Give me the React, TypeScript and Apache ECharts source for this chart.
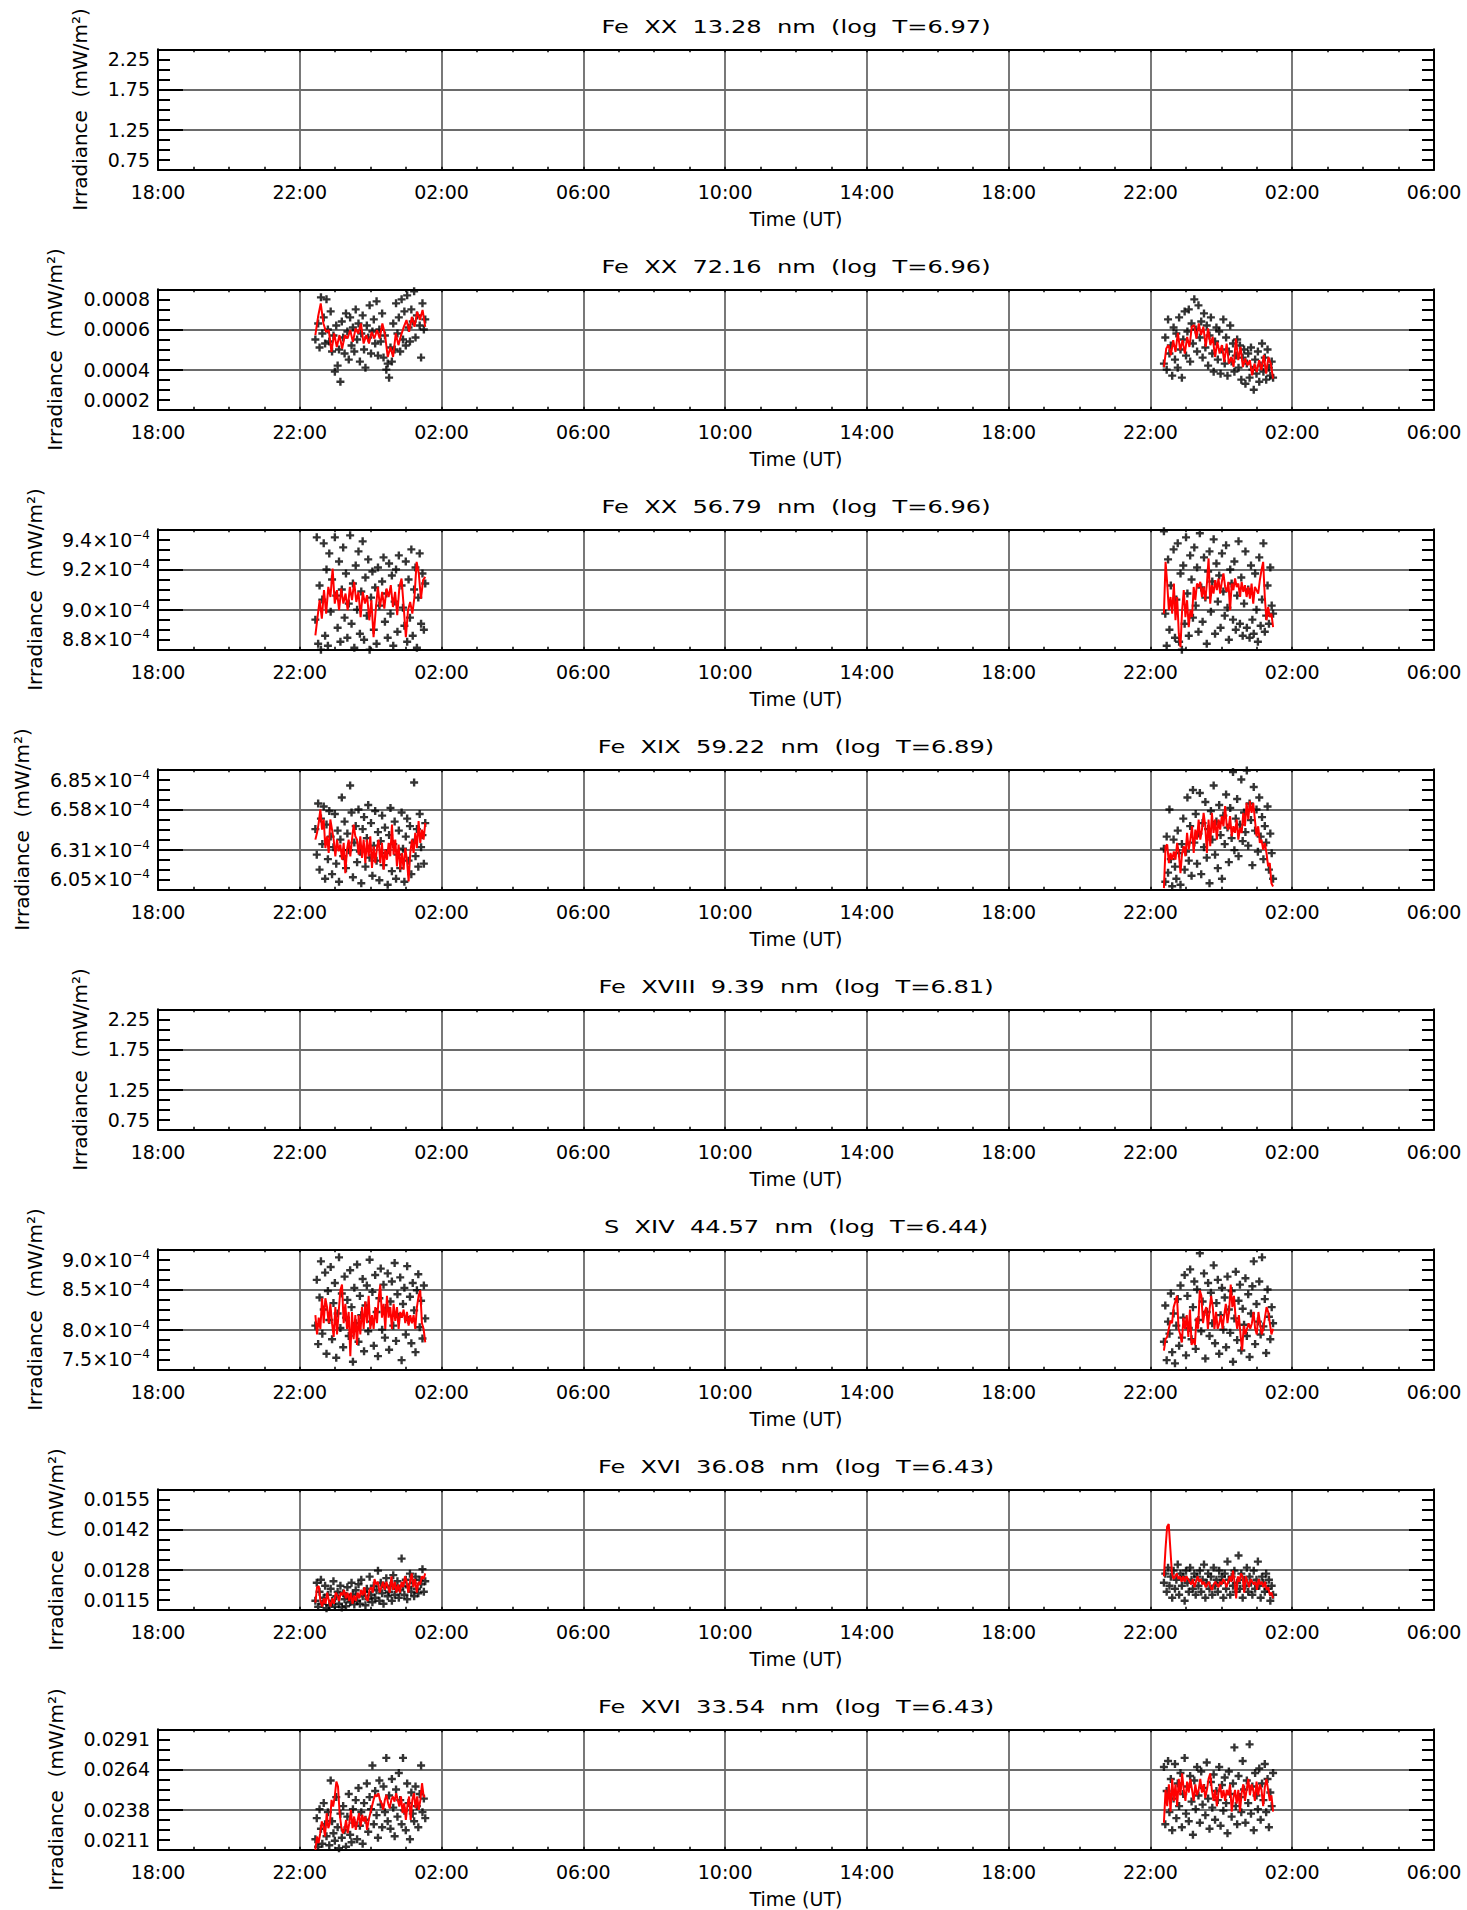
import React, { useEffect, useRef } from "react";
import * as echarts from "echarts";

const W = 1467;
const H = 1910;
const FONT = "DejaVu Sans";

// ---- panel texts and axis ranges ----
const titles = [
  "Fe XX 13.28 nm (log T=6.97)",
  "Fe XX 72.16 nm (log T=6.96)",
  "Fe XX 56.79 nm (log T=6.96)",
  "Fe XIX 59.22 nm (log T=6.89)",
  "Fe XVIII 9.39 nm (log T=6.81)",
  "S XIV 44.57 nm (log T=6.44)",
  "Fe XVI 36.08 nm (log T=6.43)",
  "Fe XVI 33.54 nm (log T=6.43)",
];
const yMin = [0.75, 0.0002, 8.8e-4, 6.046e-4, 0.75, 7.5e-4, 0.0115, 0.0211];
const yMax = [2.25, 0.0008, 9.4e-4, 6.848e-4, 2.25, 9.0e-4, 0.0155, 0.0291];
const yLabelKind = ["f2", "f4", "e1", "e2", "f2", "e1", "f4", "f4"];
const yTitle = "Irradiance  (mW/m²)";
const xTitle = "Time (UT)";

// time axis: hours after 18:00 of day 1, ticks every 4 h
const xStartHour = 18;
const xMin = 0;
const xMax = 36;
const xStep = 4;

// observation windows (hours after 18:00)
const leftWindow = [4.44, 7.54];
const rightWindow = [28.38, 31.46];

// ---- measured values, in units of 1e-4 mW/m² ----
const UNIT = 1e-4;

const p2LeftPts = [5.5, 8.2, 6.3, 5.1, 7.6, 5.8, 6.6, 5.3, 7.5, 6.0, 5.4, 6.9, 4.9, 5.7, 3.9, 6.2, 4.2, 5.0, 3.4, 6.4, 5.6, 4.8, 6.8, 5.9, 4.5, 6.6, 5.2, 6.1, 4.9, 7.0, 5.5, 6.3, 4.4, 5.8, 6.7, 5.0, 4.1, 6.2, 5.6, 7.2, 4.8, 5.9, 6.5, 5.3, 7.4, 4.7, 6.0, 5.4, 6.8, 4.6, 5.7, 4.0, 4.3, 3.6, 5.1, 4.4, 6.3, 5.0, 7.3, 5.8, 6.6, 4.9, 7.5, 5.5, 6.9, 5.2, 7.7, 6.1, 5.4, 7.0, 6.4, 7.9, 5.6, 6.7, 8.1, 6.2, 4.6, 7.3, 6.0, 6.5];
const p2LeftAvg = [5.72, 6.63, 7.30, 6.30, 5.88, 5.97, 4.88, 5.80, 5.13, 5.72, 5.05, 5.72, 5.55, 5.97, 5.38, 6.05, 5.80, 6.30, 5.30, 5.72, 5.30, 5.88, 5.55, 5.97, 5.55, 6.30, 5.72, 4.63, 5.13, 4.63, 5.80, 5.22, 5.72, 6.13, 6.47, 5.88, 6.63, 6.13, 6.88, 6.47, 6.97, 6.13];
const p2RightPts = [4.3, 5.6, 4.0, 6.5, 4.8, 5.2, 3.7, 6.1, 4.5, 5.8, 4.1, 6.6, 5.0, 3.6, 5.5, 6.9, 4.7, 5.9, 7.0, 4.4, 6.3, 5.3, 7.5, 6.0, 4.9, 7.2, 5.6, 6.4, 4.6, 6.8, 5.1, 6.2, 4.2, 5.7, 6.6, 4.8, 3.9, 5.4, 6.1, 4.5, 5.9, 3.8, 5.0, 6.5, 4.3, 5.6, 3.7, 4.9, 6.2, 4.4, 5.3, 3.9, 4.7, 5.5, 4.1, 5.2, 3.5, 4.6, 5.0, 3.3, 4.3, 4.8, 3.6, 5.1, 4.0, 3.0, 4.5, 3.8, 4.9, 3.4, 4.2, 5.3, 3.9, 4.6, 3.5, 5.0, 4.1, 3.7, 4.4, 3.6];
const p2RightAvg = [4.13, 5.05, 5.22, 4.72, 5.47, 4.88, 5.83, 4.97, 5.47, 4.80, 5.63, 5.13, 6.13, 6.22, 5.55, 6.30, 5.72, 6.13, 5.13, 6.05, 5.22, 5.63, 4.63, 5.38, 4.80, 5.22, 4.38, 5.30, 4.30, 4.63, 4.13, 5.55, 4.47, 5.13, 4.13, 4.55, 4.22, 4.47, 3.72, 4.30, 3.88, 4.47, 3.97, 4.72, 3.80, 4.63, 4.30, 3.55];

const p3LeftPts = [8.95, 9.36, 8.83, 9.12, 8.80, 9.05, 9.33, 8.87, 9.20, 8.82, 9.28, 8.99, 9.15, 8.79, 9.36, 9.07, 8.91, 9.24, 8.84, 9.10, 9.31, 8.96, 9.18, 8.86, 9.03, 9.37, 8.93, 9.13, 8.81, 9.22, 9.00, 9.29, 8.88, 9.09, 9.34, 8.85, 9.16, 8.97, 9.25, 8.80, 9.06, 9.19, 8.90, 9.11, 8.83, 9.21, 9.02, 8.78, 9.14, 9.26, 8.94, 9.08, 8.86, 9.23, 8.98, 9.17, 8.82, 9.04, 9.20, 8.89, 9.27, 8.79, 9.12, 9.01, 8.92, 9.24, 8.84, 9.15, 8.96, 9.30, 8.87, 9.10, 9.21, 8.81, 9.06, 9.28, 8.93, 9.18, 8.90, 9.13];
const p3LeftAvg = [8.872, 8.963, 9.047, 8.955, 9.097, 8.98, 9.113, 9.063, 9.205, 9.03, 9.097, 8.997, 9.105, 9.03, 9.08, 8.997, 9.113, 9.047, 9.138, 9.038, 9.088, 8.963, 9.088, 9.03, 9.072, 8.947, 9.047, 8.863, 8.997, 9.113, 9.013, 9.088, 9.005, 9.105, 9.063, 9.122, 9.013, 9.088, 8.972, 9.113, 9.155, 9.013, 8.863, 8.997, 9.038, 8.98, 9.063, 9.238, 9.18, 9.055, 9.147, 9.163];
const p3RightPts = [9.39, 8.98, 8.82, 9.25, 8.90, 9.12, 8.79, 9.30, 8.86, 9.05, 9.33, 8.84, 9.18, 8.80, 9.22, 8.93, 9.36, 9.08, 8.87, 9.27, 9.15, 8.96, 9.31, 9.02, 9.21, 8.89, 9.38, 9.11, 8.94, 9.26, 9.06, 8.83, 9.19, 9.29, 8.99, 9.14, 9.35, 8.88, 9.23, 9.04, 9.17, 8.91, 9.28, 9.09, 8.97, 9.32, 9.01, 8.85, 9.20, 9.13, 8.95, 9.24, 8.90, 9.07, 9.34, 8.93, 9.16, 8.87, 9.03, 9.29, 8.91, 9.10, 8.86, 9.22, 8.95, 8.88, 9.18, 9.00, 8.84, 9.26, 8.92, 9.05, 9.33, 8.89, 8.97, 9.12, 8.93, 9.21, 9.02, 8.98];
const p3RightAvg = [8.980, 9.238, 9.130, 8.997, 9.063, 8.980, 9.130, 8.947, 9.063, 8.880, 8.813, 8.997, 9.097, 8.963, 9.047, 8.913, 8.997, 8.963, 9.113, 9.047, 9.130, 9.113, 9.138, 9.063, 9.113, 9.047, 9.130, 9.255, 9.030, 9.122, 9.080, 9.147, 9.097, 9.155, 9.080, 9.138, 9.180, 9.113, 9.088, 9.138, 8.997, 9.130, 9.097, 9.155, 9.113, 9.130, 9.063, 9.138, 9.088, 9.122, 9.063, 9.113, 9.055, 9.130, 9.030, 9.113, 9.097, 9.080, 9.147, 9.197, 9.238, 9.063, 8.947, 9.013, 8.963, 8.980, 8.913];

const p4LeftPts = [6.45, 6.28, 6.62, 6.18, 6.52, 6.35, 6.60, 6.12, 6.48, 6.25, 6.57, 6.40, 6.15, 6.33, 6.55, 6.22, 6.44, 6.10, 6.38, 6.66, 6.27, 6.50, 6.19, 6.42, 6.31, 6.74, 6.56, 6.13, 6.36, 6.47, 6.23, 6.58, 6.30, 6.09, 6.45, 6.53, 6.20, 6.39, 6.61, 6.26, 6.49, 6.14, 6.34, 6.57, 6.24, 6.43, 6.11, 6.37, 6.54, 6.21, 6.46, 6.29, 6.08, 6.41, 6.59, 6.17, 6.35, 6.50, 6.12, 6.28, 6.44, 6.19, 6.56, 6.32, 6.10, 6.40, 6.52, 6.24, 6.47, 6.15, 6.36, 6.76, 6.27, 6.45, 6.20, 6.55, 6.33, 6.41, 6.22, 6.49];
const p4LeftAvg = [6.380, 6.425, 6.492, 6.581, 6.447, 6.514, 6.324, 6.402, 6.291, 6.514, 6.447, 6.380, 6.269, 6.380, 6.302, 6.347, 6.246, 6.358, 6.157, 6.313, 6.380, 6.269, 6.380, 6.480, 6.402, 6.380, 6.280, 6.402, 6.258, 6.380, 6.224, 6.380, 6.269, 6.402, 6.191, 6.336, 6.224, 6.324, 6.380, 6.224, 6.358, 6.180, 6.313, 6.246, 6.358, 6.269, 6.480, 6.280, 6.380, 6.202, 6.347, 6.180, 6.291, 6.180, 6.324, 6.246, 6.102, 6.291, 6.380, 6.291, 6.425, 6.324, 6.503, 6.358, 6.447, 6.380, 6.492];
const p4RightPts = [6.32, 6.10, 6.40, 6.16, 6.58, 6.25, 6.07, 6.38, 6.20, 6.12, 6.44, 6.29, 6.08, 6.35, 6.52, 6.18, 6.30, 6.66, 6.24, 6.47, 6.14, 6.71, 6.36, 6.55, 6.22, 6.42, 6.69, 6.15, 6.49, 6.33, 6.63, 6.26, 6.45, 6.09, 6.57, 6.38, 6.74, 6.28, 6.50, 6.19, 6.61, 6.41, 6.12, 6.54, 6.35, 6.68, 6.46, 6.23, 6.59, 6.39, 6.83, 6.31, 6.52, 6.65, 6.27, 6.48, 6.78, 6.37, 6.56, 6.43, 6.84, 6.34, 6.62, 6.51, 6.21, 6.73, 6.44, 6.58, 6.30, 6.66, 6.40, 6.53, 6.25, 6.47, 6.36, 6.60, 6.18, 6.42, 6.29, 6.12];
const p4RightAvg = [6.057, 6.336, 6.347, 6.224, 6.291, 6.246, 6.302, 6.246, 6.358, 6.291, 6.157, 6.291, 6.336, 6.269, 6.425, 6.313, 6.380, 6.469, 6.291, 6.447, 6.380, 6.514, 6.380, 6.447, 6.558, 6.469, 6.291, 6.514, 6.336, 6.558, 6.425, 6.514, 6.380, 6.514, 6.447, 6.536, 6.469, 6.603, 6.469, 6.447, 6.536, 6.402, 6.469, 6.425, 6.514, 6.380, 6.458, 6.425, 6.558, 6.469, 6.625, 6.514, 6.636, 6.558, 6.625, 6.514, 6.402, 6.469, 6.358, 6.380, 6.313, 6.358, 6.291, 6.202, 6.224, 6.090, 6.068];

const p6LeftPts = [8.05, 8.62, 7.82, 8.40, 8.85, 7.95, 8.25, 8.71, 7.70, 8.48, 8.12, 8.78, 7.88, 8.33, 8.58, 7.65, 8.20, 8.90, 8.02, 8.45, 7.78, 8.66, 8.15, 8.37, 7.92, 8.74, 8.28, 7.60, 8.52, 8.08, 8.81, 7.85, 8.42, 8.18, 8.63, 7.73, 8.30, 8.55, 7.98, 8.87, 8.10, 8.47, 7.80, 8.68, 8.22, 7.67, 8.39, 8.76, 8.00, 8.56, 7.90, 8.27, 8.70, 7.75, 8.35, 8.60, 8.05, 8.83, 7.86, 8.44, 8.16, 8.65, 7.62, 8.32, 8.52, 7.94, 8.79, 8.12, 8.41, 7.83, 8.58, 8.24, 7.72, 8.49, 8.69, 8.03, 8.36, 7.89, 8.55, 8.14];
const p6LeftAvg = [8.18, 7.94, 8.15, 8.01, 8.39, 8.08, 8.39, 8.28, 8.08, 8.32, 8.08, 7.91, 8.28, 7.94, 8.22, 8.49, 8.56, 8.08, 8.32, 8.01, 8.22, 7.67, 8.22, 7.88, 8.18, 7.81, 8.18, 7.94, 8.28, 8.01, 8.35, 8.08, 8.42, 8.01, 8.18, 8.01, 8.28, 8.08, 8.39, 8.56, 8.15, 8.32, 8.01, 8.42, 8.15, 8.28, 8.01, 8.32, 8.11, 8.28, 8.01, 8.22, 8.15, 8.25, 8.08, 8.22, 8.05, 8.18, 8.08, 8.18, 8.01, 8.28, 8.42, 8.49, 8.08, 8.01, 7.84];
const p6RightPts = [7.85, 8.30, 7.62, 8.10, 7.95, 8.45, 7.72, 8.20, 7.58, 8.05, 8.38, 7.80, 8.55, 7.90, 8.15, 8.68, 7.68, 8.42, 8.02, 8.75, 7.88, 8.28, 8.60, 7.76, 8.50, 8.12, 8.95, 7.98, 8.35, 8.70, 7.64, 8.22, 8.58, 7.92, 8.46, 8.08, 8.80, 7.83, 8.33, 8.62, 7.70, 8.18, 8.52, 8.00, 8.40, 7.78, 8.66, 8.25, 7.96, 8.48, 7.60, 8.14, 8.72, 7.87, 8.36, 8.56, 7.74, 8.26, 8.06, 8.64, 7.92, 8.44, 7.66, 8.20, 8.54, 8.85, 7.82, 8.32, 8.10, 8.60, 7.94, 8.90, 8.04, 8.38, 7.71, 8.50, 8.16, 7.88, 8.28, 8.08];
const p6RightAvg = [7.74, 7.88, 7.91, 8.01, 8.11, 8.08, 8.28, 8.35, 8.42, 8.01, 7.94, 7.84, 8.15, 8.01, 8.18, 7.91, 8.25, 7.81, 7.88, 7.81, 8.15, 8.01, 8.49, 8.42, 8.08, 8.22, 8.28, 8.01, 8.25, 8.42, 8.28, 8.01, 8.22, 8.01, 8.08, 8.18, 8.01, 8.18, 8.32, 8.08, 8.22, 8.56, 8.28, 8.42, 8.15, 8.01, 8.18, 7.94, 7.74, 8.05, 7.94, 8.01, 8.08, 8.01, 8.08, 8.22, 8.01, 7.94, 8.22, 8.08, 7.94, 8.01, 8.15, 8.28, 8.22, 8.08, 7.94, 8.01];

const p7LeftPts = [118, 124, 116, 121, 125, 117, 119, 123, 115.5, 120, 116.5, 122, 118, 124.5, 116, 119.5, 121, 117, 123, 115.8, 120.5, 118.5, 116.2, 122.5, 119, 117.5, 124, 120, 116.8, 121.5, 118, 123.5, 117, 125, 119.5, 121, 116.5, 122, 118.5, 126, 120, 117.5, 123, 119, 121.5, 128, 118, 124, 120.5, 117, 122.5, 125.5, 119.5, 121, 123, 118, 126.5, 120, 122, 124.5, 119, 121.5, 132, 123, 120, 125, 118.5, 122.5, 127, 121, 124, 119.5, 126, 122, 120.5, 125, 123.5, 128.5, 121, 124.5];
const p7LeftAvg = [117.4, 122.5, 122.9, 117.9, 116.1, 118.8, 117.0, 120.7, 117.9, 116.1, 118.8, 117.0, 120.7, 119.8, 117.9, 120.7, 119.8, 121.6, 118.8, 120.7, 117.9, 120.7, 117.0, 119.8, 117.9, 120.7, 118.8, 121.6, 119.8, 122.5, 118.8, 117.9, 121.6, 122.5, 120.7, 125.2, 123.4, 124.3, 120.7, 122.5, 124.3, 121.6, 124.3, 122.5, 120.7, 126.1, 121.6, 124.3, 120.7, 123.4, 120.7, 124.3, 122.5, 126.1, 124.3, 120.7, 124.3, 127.1, 122.5, 125.2, 120.7, 124.3, 123.4, 126.1, 125.2, 127.1];
const p7RightPts = [124, 127, 121, 129, 123, 126, 119, 128, 122, 125, 130, 120, 127, 123, 126, 118, 128, 124, 121, 129, 125, 122, 127, 120, 126, 123, 128, 121, 125, 130, 119, 124, 127, 122, 126, 120, 129, 123, 125, 121, 128, 124, 126, 119, 127, 122, 131, 125, 120, 126, 123, 128, 121, 124, 133, 122, 127, 119, 125, 123, 129, 121, 126, 124, 120, 128, 122, 125, 131, 123, 119, 126, 124, 121, 127, 122, 125, 118, 123, 120];
const p7RightAvg = [126.1, 135.3, 142.6, 143.5, 135.3, 127.1, 125.2, 126.1, 127.1, 125.2, 126.1, 124.3, 126.1, 124.3, 126.1, 125.2, 124.3, 123.4, 125.2, 122.5, 124.3, 126.1, 124.3, 125.2, 123.4, 124.3, 122.5, 123.4, 124.3, 122.5, 121.6, 123.4, 124.3, 123.4, 122.5, 124.3, 123.4, 125.2, 124.3, 122.5, 124.3, 126.1, 124.3, 128.0, 124.3, 118.8, 126.1, 124.3, 127.1, 126.1, 120.7, 126.1, 124.3, 122.5, 125.2, 124.3, 123.4, 124.3, 121.6, 125.2, 123.4, 124.3, 122.5, 124.3, 121.6, 122.5, 119.8, 120.7, 118.8];

const p8LeftPts = [218, 232, 213, 238, 225, 215, 242, 228, 220, 236, 214, 257, 230, 222, 217, 246, 226, 212, 235, 219, 240, 224, 213, 233, 248, 221, 216, 238, 229, 244, 218, 252, 227, 236, 215, 242, 231, 255, 223, 246, 238, 267, 228, 250, 234, 219, 257, 241, 226, 253, 236, 272, 230, 247, 225, 258, 239, 220, 251, 233, 262, 244, 228, 272, 237, 224, 255, 242, 218, 249, 235, 230, 253, 240, 226, 248, 267, 236, 245, 232];
const p8LeftAvg = [211.0, 219.8, 215.4, 222.0, 229.8, 226.5, 219.8, 235.3, 225.4, 228.7, 244.1, 239.7, 246.4, 256.3, 253.0, 235.3, 226.5, 222.0, 224.3, 230.9, 222.0, 228.7, 237.5, 225.4, 233.1, 224.3, 229.8, 235.3, 226.5, 234.2, 229.8, 233.1, 224.3, 230.9, 235.3, 239.7, 244.1, 247.5, 246.4, 248.6, 244.1, 241.9, 237.5, 244.1, 247.5, 241.9, 238.6, 244.1, 246.4, 243.0, 248.6, 244.1, 239.7, 246.4, 235.3, 241.9, 230.9, 240.8, 246.4, 230.9, 244.1, 248.6, 238.6, 246.4, 237.5, 244.1, 255.2, 246.4, 246.4];
const p8RightPts = [266, 228, 250, 270, 236, 258, 224, 245, 268, 232, 255, 240, 262, 226, 248, 272, 235, 253, 230, 260, 243, 221, 257, 238, 266, 247, 229, 263, 241, 252, 234, 269, 245, 225, 256, 239, 261, 231, 250, 244, 266, 227, 254, 237, 259, 242, 222, 263, 248, 233, 255, 279, 240, 228, 260, 246, 236, 270, 251, 229, 257, 242, 281, 235, 253, 224, 262, 247, 238, 265, 231, 255, 244, 268, 236, 258, 226, 249, 240, 262];
const p8RightAvg = [229.0, 250.8, 239.9, 254.5, 236.3, 258.1, 243.5, 254.5, 239.9, 258.1, 247.2, 261.7, 250.8, 243.5, 256.3, 249.0, 258.1, 250.8, 243.5, 254.5, 247.2, 250.8, 258.1, 249.0, 254.5, 245.4, 250.8, 258.1, 261.7, 250.8, 243.5, 250.8, 239.9, 249.0, 254.5, 245.4, 250.8, 243.5, 250.8, 247.2, 254.5, 236.3, 245.4, 250.8, 241.7, 250.8, 236.3, 249.0, 254.5, 243.5, 250.8, 258.1, 247.2, 254.5, 250.8, 243.5, 256.3, 247.2, 254.5, 250.8, 239.9, 252.6, 258.1, 250.8, 243.5, 247.2, 236.3];

// table of panels -> measured arrays (null = no data)
const panelData: any[] = [
  null,
  { lp: p2LeftPts, la: p2LeftAvg, rp: p2RightPts, ra: p2RightAvg },
  { lp: p3LeftPts, la: p3LeftAvg, rp: p3RightPts, ra: p3RightAvg },
  { lp: p4LeftPts, la: p4LeftAvg, rp: p4RightPts, ra: p4RightAvg },
  null,
  { lp: p6LeftPts, la: p6LeftAvg, rp: p6RightPts, ra: p6RightAvg },
  { lp: p7LeftPts, la: p7LeftAvg, rp: p7RightPts, ra: p7RightAvg },
  { lp: p8LeftPts, la: p8LeftAvg, rp: p8RightPts, ra: p8RightAvg },
];

// ---- layout (pixels) ----
const GRID_LEFT = 158;
const GRID_WIDTH = 1276;
const GRID_TOP0 = 49.3;
const GRID_STEP = 240;
const GRID_HEIGHT = 120.5;
const yNameGap = [68, 93, 113, 126, 68, 113, 92, 92];

const PLUS = "path://M2.8,0H5.2V2.8H8V5.2H5.2V8H2.8V5.2H0V2.8H2.8Z";

function sampled(values: number[], win: number[]) {
  const n = values.length;
  return values.map((v, i) => [win[0] + ((win[1] - win[0]) * i) / (n - 1), v * UNIT]);
}

function yFormatter(kind: string) {
  return (v: number) => {
    if (kind === "f2") return v.toFixed(2);
    if (kind === "f4") return v.toFixed(4);
    const m = v * 1e4;
    return `{m|${m.toFixed(kind === "e1" ? 1 : 2)}×10}{e|−4}`;
  };
}

function timeFormatter(v: number) {
  const h = (xStartHour + Math.round(v)) % 24;
  return (h < 10 ? "0" : "") + h + ":00";
}

function buildOption() {
  const grid: any[] = [];
  const xAxis: any[] = [];
  const yAxis: any[] = [];
  const series: any[] = [];
  const graphic: any[] = [];
  const black = "#000000";
  const gridGray = "#6a6a6a";

  titles.forEach((t, k) => {
    const top = GRID_TOP0 + GRID_STEP * k;
    grid.push({ left: GRID_LEFT, top, width: GRID_WIDTH, height: GRID_HEIGHT, containLabel: false });

    const xCommon = {
      type: "value",
      gridIndex: k,
      min: xMin,
      max: xMax,
      interval: xStep,
      axisLine: { show: true, onZero: false, lineStyle: { color: black, width: 2 } },
      axisTick: { show: true, inside: true, length: 3, lineStyle: { color: black, width: 1.5 } },
      minorTick: { show: true, splitNumber: 4, length: 3, lineStyle: { color: black, width: 1.5 } },
    };
    xAxis.push({
      ...xCommon,
      position: "bottom",
      splitLine: { show: true, showMinLine: false, showMaxLine: false, lineStyle: { color: gridGray, width: 1.8 } },
      axisLabel: {
        show: true,
        margin: 13,
        fontSize: 19,
        fontFamily: FONT,
        color: black,
        formatter: timeFormatter,
        showMinLabel: true,
        showMaxLabel: true,
      },
      name: xTitle,
      nameLocation: "middle",
      nameGap: 40,
      nameTextStyle: { fontSize: 19, fontFamily: FONT, color: black },
    });
    xAxis.push({
      ...xCommon,
      position: "top",
      splitLine: { show: false },
      axisLabel: { show: false },
    });

    const interval = (yMax[k] - yMin[k]) / 3;
    const yCommon = {
      type: "value",
      gridIndex: k,
      min: yMin[k],
      max: yMax[k],
      interval,
      axisLine: { show: true, onZero: false, lineStyle: { color: black, width: 2 } },
      axisTick: { show: true, inside: true, length: 25, lineStyle: { color: black, width: 2 } },
      minorTick: { show: true, splitNumber: 4, length: 12, lineStyle: { color: black, width: 2 } },
    };
    yAxis.push({
      ...yCommon,
      position: "left",
      splitLine: { show: true, showMinLine: false, showMaxLine: false, lineStyle: { color: gridGray, width: 1.8 } },
      axisLabel: {
        show: true,
        margin: 8,
        fontSize: 19,
        fontFamily: FONT,
        color: black,
        formatter: yFormatter(yLabelKind[k]),
        showMinLabel: true,
        showMaxLabel: true,
        verticalAlignMinLabel: "bottom",
        verticalAlignMaxLabel: "top",
        rich: {
          m: { fontSize: 19, lineHeight: 22, fontFamily: FONT, color: black },
          e: { fontSize: 12, lineHeight: 10, fontFamily: FONT, color: black, verticalAlign: "top" },
        },
      },
      name: yTitle,
      nameLocation: "middle",
      nameGap: yNameGap[k],
      nameTextStyle: { fontSize: 20, fontFamily: FONT, color: black },
    });
    yAxis.push({
      ...yCommon,
      position: "right",
      splitLine: { show: false },
      axisLabel: { show: false },
    });

    graphic.push({
      type: "text",
      x: GRID_LEFT + GRID_WIDTH / 2,
      y: top - 22.3,
      scaleX: 1.42,
      silent: true,
      style: {
        text: t.replace(/ /g, "  "),
        fontSize: 17,
        fontFamily: FONT,
        fill: black,
        align: "center",
        verticalAlign: "middle",
      },
    });

    const d = panelData[k];
    if (!d) {
      series.push({ type: "scatter", xAxisIndex: 2 * k, yAxisIndex: 2 * k, data: [] });
      return;
    }
    const pairs = [
      [d.lp, d.la, leftWindow],
      [d.rp, d.ra, rightWindow],
    ];
    pairs.forEach(([pts, avg, win]) => {
      series.push({
        type: "scatter",
        xAxisIndex: 2 * k,
        yAxisIndex: 2 * k,
        data: sampled(pts, win),
        symbol: PLUS,
        symbolSize: 8,
        itemStyle: { color: black },
        silent: true,
        z: 3,
      });
      series.push({
        type: "line",
        xAxisIndex: 2 * k,
        yAxisIndex: 2 * k,
        data: sampled(avg, win),
        showSymbol: false,
        symbol: "none",
        lineStyle: { color: "#ff0000", width: 2 },
        silent: true,
        z: 4,
      });
    });
  });

  return {
    animation: false,
    backgroundColor: "#ffffff",
    textStyle: { fontFamily: FONT, color: "#000000" },
    grid,
    xAxis,
    yAxis,
    series,
    graphic,
  };
}

export default function App() {
  const ref = useRef<HTMLDivElement>(null);
  useEffect(() => {
    if (!ref.current) return;
    const chart = echarts.init(ref.current, null, { renderer: "svg", width: W, height: H });
    chart.setOption(buildOption() as any);
    return () => chart.dispose();
  }, []);
  return (
    <div
      ref={ref}
      style={{ position: "absolute", left: 0, top: 0, width: W, height: H, background: "#ffffff" }}
    />
  );
}
